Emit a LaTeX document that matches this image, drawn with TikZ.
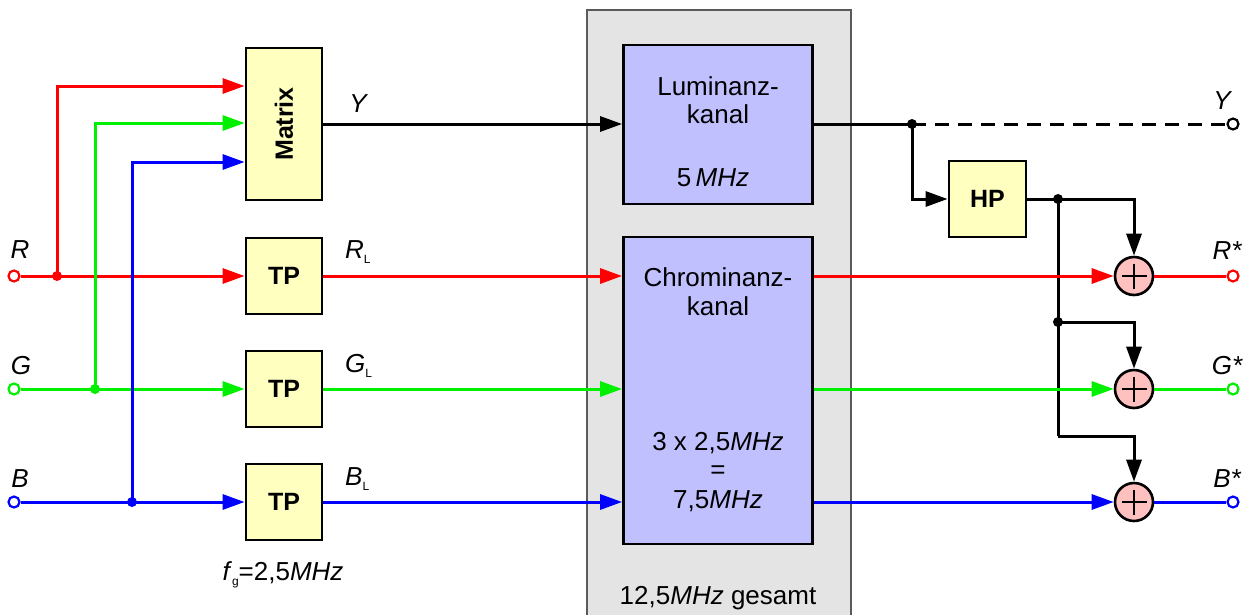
\documentclass[tikz,border=0pt]{standalone}
\usepackage{fontspec}
\setmainfont{Liberation Sans}
\usetikzlibrary{arrows.meta,calc}
\definecolor{cR}{RGB}{255,0,0}
\definecolor{cG}{RGB}{0,240,0}
\definecolor{cB}{RGB}{0,0,255}
\definecolor{yel}{RGB}{255,255,192}
\definecolor{lil}{RGB}{192,192,255}
\definecolor{gry}{RGB}{228,228,228}
\definecolor{gbd}{RGB}{90,90,90}
\definecolor{pnk}{RGB}{255,192,192}
\tikzset{
  yblk/.style={draw=black, line width=2.8pt, fill=yel, inner sep=0pt},
  lblk/.style={draw=black, line width=2.8pt, fill=lil, inner sep=0pt},
  wire/.style={line width=3pt},
  arr/.style={wire, -{Triangle[length=22pt,width=15pt]}},
  term/.style={circle, draw, fill=white, line width=2.2pt, inner sep=0pt, minimum size=11pt},
  plus/.style={circle, draw=black, fill=pnk, line width=2.6pt, inner sep=0pt, minimum size=38pt},
  txt/.style={font=\fontsize{26}{30}\selectfont, inner sep=0pt},
  btxt/.style={font=\fontsize{25}{30}\selectfont\bfseries, inner sep=0pt},
  itxt/.style={font=\fontsize{26}{30}\selectfont\itshape, inner sep=0pt},
}
\newcommand{\subL}{\raisebox{-5pt}{\fontsize{12}{12}\selectfont\upshape L}}
\begin{document}
\begin{tikzpicture}[x=1pt,y=-1pt]
\useasboundingbox (0,0) rectangle (1245,614);
% gray panel
\fill[gry] (587,10) rectangle (851,620);
\draw[gbd, line width=1.5pt] (587,620) -- (587,10) -- (851,10) -- (851,620);

% blocks
\node[yblk, minimum width=76pt, minimum height=152pt] (mx) at (284,124) {};
\node[btxt, rotate=90] (mxt) at (mx) {Matrix};
\node[yblk, minimum width=76pt, minimum height=76pt] (tpR) at (284,276) {};
\node[btxt] (tpRt) at (tpR) {TP};
\node[yblk, minimum width=76pt, minimum height=76pt] (tpG) at (284,389) {};
\node[btxt] (tpGt) at (tpG) {TP};
\node[yblk, minimum width=76pt, minimum height=76pt] (tpB) at (284,502) {};
\node[btxt] (tpBt) at (tpB) {TP};

\node[lblk, minimum width=189pt, minimum height=159pt] (lk) at (718,124.5) {};
\node[lblk, minimum width=189pt, minimum height=307pt] (ck) at (718,390.5) {};

\node[yblk, minimum width=77pt, minimum height=76pt] (hp) at (987.5,199) {};
\node[btxt] (hpt) at (hp) {HP};

% texts in channels
\node[txt] (l1) at (718,86) {Luminanz-};
\node[txt] (l2) at (718,114) {kanal};
\node[txt] (l3) at (713,178) {5\,\textit{MHz}};
\node[txt] (c1) at (718,277) {Chrominanz-};
\node[txt] (c2) at (718,306) {kanal};
\node[txt] (c3) at (718,443) {3 x 2,5\textit{MHz}};
\node[txt] (c4) at (718,472) {=};
\node[txt] (c5) at (718,501) {7,5\textit{MHz}};
\node[txt] (tot) at (718,598) {12,5\textit{MHz} gesamt};
\node[txt] (fg) at (283,575) {\textit{f}\raisebox{-5pt}{\fontsize{12}{12}\selectfont g}=2,5\textit{MHz}};

% terminals
\node[term, draw=cR] (inR) at (14,276) {};
\node[term, draw=cG] (inG) at (14,389) {};
\node[term, draw=cB] (inB) at (14,502) {};
\node[term, draw=black] (outY) at (1233,124) {};
\node[term, draw=cR] (outR) at (1233,276) {};
\node[term, draw=cG] (outG) at (1233,389) {};
\node[term, draw=cB] (outB) at (1233,502) {};

% labels
\node[itxt] (lR) at (20,250) {R};
\node[itxt] (lG) at (21,366) {G};
\node[itxt] (lB) at (20,479) {B};
\node[itxt, anchor=west] (lRL) at (345,252) {R\subL};
\node[itxt, anchor=west] (lGL) at (345,366) {G\subL};
\node[itxt, anchor=west] (lBL) at (345,479) {B\subL};
\node[itxt] (lY) at (358,104) {Y};
\node[itxt] (lYo) at (1222,101) {Y};
\node[itxt] (lRo) at (1227,251) {R*};
\node[itxt] (lGo) at (1227,366) {G*};
\node[itxt] (lBo) at (1227,479) {B*};

% plus nodes
\node[plus] (pR) at (1134,276) {};
\node[plus] (pG) at (1134,389) {};
\node[plus] (pB) at (1134,502) {};
\foreach \p in {pR,pG,pB}{
  \draw[line width=2.6pt] ($(\p)+(-12.5,0)$) -- ($(\p)+(12.5,0)$);
  \draw[line width=2.6pt] ($(\p)+(0,-12.5)$) -- ($(\p)+(0,12.5)$);
}

% junction coordinates
\coordinate (jR) at (57,276);
\coordinate (jG) at (95,389);
\coordinate (jB) at (132,502);
\coordinate (jY) at (912,124);
\coordinate (jH) at (1058,199);
\coordinate (jHG) at (1058,322);
\coordinate (kB) at (1058,436);

% left wiring
\draw[arr, cR] (inR) -- (tpR.west);
\draw[arr, cR] (jR) |- (mx.west |- 0,86);
\draw[arr, cG] (inG) -- (tpG.west);
\draw[arr, cG] (jG) |- (mx.west |- 0,123);
\draw[arr, cB] (inB) -- (tpB.west);
\draw[arr, cB] (jB) |- (mx.west |- 0,162);
\fill[cR] (jR) circle (5pt);
\fill[cG] (jG) circle (5pt);
\fill[cB] (jB) circle (5pt);

% to channels
\draw[arr] (mx.east |- 0,124) -- (lk.west |- 0,124);
\draw[arr, cR] (tpR.east) -- (ck.west |- tpR.east);
\draw[arr, cG] (tpG.east) -- (ck.west |- tpG.east);
\draw[arr, cB] (tpB.east) -- (ck.west |- tpB.east);

% right wiring
\draw[wire] (lk.east |- jY) -- (jY);
\draw[wire, dash pattern=on 14pt off 9pt] (jY) -- (outY.west);
\draw[arr] (jY) |- (hp.west);
\fill (jY) circle (5pt);
\draw[wire] (hp.east) -- (jH);
\draw[arr] (jH) -| (pR.north);
\draw[wire] (jH) -- (kB);
\draw[arr] (jHG) -| (pG.north);
\draw[arr] (kB) -| (pB.north);
\fill (jH) circle (5pt);
\fill (jHG) circle (5pt);

\draw[arr, cR] (ck.east |- pR) -- (pR.west);
\draw[arr, cG] (ck.east |- pG) -- (pG.west);
\draw[arr, cB] (ck.east |- pB) -- (pB.west);
\draw[wire, cR] (pR.east) -- (outR.west);
\draw[wire, cG] (pG.east) -- (outG.west);
\draw[wire, cB] (pB.east) -- (outB.west);
\end{tikzpicture}
\end{document}
